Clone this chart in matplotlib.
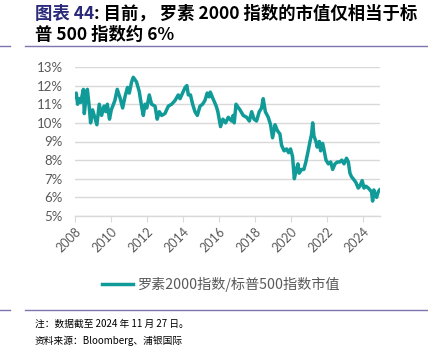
import numpy as np
import matplotlib
matplotlib.use('Agg')
import matplotlib.pyplot as plt
from matplotlib.lines import Line2D

plt.rcParams['font.family'] = ['Lato', 'Noto Sans CJK SC', 'DejaVu Sans']

# ratio of Russell 2000 / S&P 500 market cap (%)
years = [2008.00, 2008.05, 2008.13, 2008.20, 2008.30, 2008.45, 2008.50, 2008.58, 2008.67,
         2008.77, 2008.85, 2008.96, 2009.08, 2009.20, 2009.33, 2009.46, 2009.60, 2009.70,
         2009.78, 2009.90, 2010.00, 2010.20, 2010.33, 2010.50, 2010.63, 2010.76, 2010.90,
         2011.00, 2011.13, 2011.22, 2011.40, 2011.55, 2011.70, 2011.78, 2011.87, 2011.97,
         2012.11, 2012.24, 2012.43, 2012.55, 2012.67, 2012.80, 2012.98, 2013.17, 2013.35,
         2013.54, 2013.72, 2013.82, 2013.96, 2014.10, 2014.20, 2014.28, 2014.40, 2014.52,
         2014.65, 2014.78, 2014.93, 2015.07, 2015.20, 2015.33, 2015.44, 2015.50, 2015.65,
         2015.83, 2015.92, 2016.07, 2016.20, 2016.35, 2016.50, 2016.68, 2016.77, 2016.83,
         2016.93, 2017.00, 2017.15, 2017.33, 2017.52, 2017.67, 2017.80, 2017.93, 2018.07,
         2018.22, 2018.35, 2018.44, 2018.56, 2018.72, 2018.85, 2018.96, 2019.10, 2019.22,
         2019.37, 2019.46, 2019.60, 2019.74, 2019.85, 2019.96, 2020.07, 2020.17, 2020.26,
         2020.37, 2020.44, 2020.57, 2020.70, 2020.81, 2020.94, 2021.04, 2021.13, 2021.19,
         2021.26, 2021.37, 2021.44, 2021.56, 2021.63, 2021.74, 2021.81, 2021.93, 2022.06,
         2022.19, 2022.30, 2022.43, 2022.56, 2022.70, 2022.81, 2022.93, 2023.07, 2023.17,
         2023.26, 2023.35, 2023.44, 2023.59, 2023.72, 2023.81, 2023.94, 2024.04, 2024.15,
         2024.28, 2024.37, 2024.46, 2024.52, 2024.59, 2024.65, 2024.74, 2024.83, 2024.91]
ratio = [11.4, 11.6, 11.0, 11.3, 11.1, 11.8, 10.5, 11.2, 11.8,
         10.9, 10.0, 10.7, 10.3, 9.9, 11.0, 10.4, 10.9, 10.6,
         11.0, 10.2, 10.7, 11.2, 11.8, 11.3, 10.8, 11.4, 11.9,
         11.6, 12.2, 12.45, 12.2, 11.7, 10.8, 10.4, 11.0, 10.8,
         11.5, 11.0, 10.9, 10.2, 10.6, 10.4, 10.5, 10.9, 11.0,
         11.2, 11.5, 11.3, 11.6, 11.9, 12.0, 11.5, 11.5, 11.0,
         10.6, 10.4, 10.9, 11.0, 11.2, 11.6, 11.4, 11.65, 11.3,
         10.9, 10.6, 9.8, 10.2, 10.0, 10.3, 10.1, 10.4, 10.0,
         11.0, 10.9, 10.7, 10.4, 10.3, 10.1, 10.6, 10.2, 10.1,
         10.6, 10.8, 11.3, 10.6, 10.3, 9.9, 9.2, 9.9, 9.6,
         9.4, 8.8, 8.5, 8.6, 8.4, 8.6, 8.2, 7.0, 7.4,
         7.8, 7.3, 7.5, 7.5, 7.9, 8.5, 9.0, 9.4, 10.0,
         9.3, 9.0, 8.7, 9.0, 8.5, 8.9, 8.6, 8.0, 7.8,
         7.9, 7.5, 7.8, 7.9, 7.9, 8.0, 7.8, 8.1, 7.9,
         7.3, 7.1, 7.0, 6.8, 6.5, 6.6, 6.9, 6.5, 6.6,
         6.5, 6.4, 6.3, 5.8, 6.4, 6.1, 6.0, 6.3, 6.4]

yticks = [5, 6, 7, 8, 9, 10, 11, 12, 13]
xticks = [2008, 2010, 2012, 2014, 2016, 2018, 2020, 2022, 2024]

teal = '#119b98'
grey = '#595959'
cjk = ['Noto Sans CJK SC', 'DejaVu Sans']
W, H = 428, 350

fig = plt.figure(figsize=(4.28, 3.5), dpi=100)
ax = fig.add_axes([75.3 / W, 1 - 216 / H, 304.7 / W, 149 / H])

ax.plot(years, ratio, color=teal, lw=2.5, solid_joinstyle='round')
ax.set_xlim(2008, 2024.93)
ax.set_ylim(5, 13)
ax.set_yticks(yticks)
ax.set_yticklabels([f'{v}%' for v in yticks])
ax.set_xticks(xticks)
ax.set_xticklabels([str(v) for v in xticks], rotation=45, ha='right', rotation_mode='anchor')
ax.grid(axis='y', color='#d9d9d9', lw=1)
ax.set_axisbelow(True)
for s in ['top', 'right', 'left']:
    ax.spines[s].set_visible(False)
ax.spines['bottom'].set_color('#d9d9d9')
ax.spines['bottom'].set_linewidth(1)
ax.tick_params(axis='y', length=0, labelsize=9.5, labelcolor=grey, pad=9)
ax.tick_params(axis='x', length=4, color='#d9d9d9', labelsize=9, labelcolor=grey, pad=3)

# title
t1 = fig.text(35 / W, 1 - 14 / H, '图表 44', family=cjk, fontsize=12.5, fontweight='bold',
              color='#2b2a7a', va='center')
fig.canvas.draw()
bb = t1.get_window_extent()
fig.text(bb.x1 / W, 1 - 14 / H, ': 目前， 罗素 2000 指数的市值仅相当于标', family=cjk,
         fontsize=12.5, fontweight='bold', color='black', va='center')
fig.text(35 / W, 1 - 35 / H, '普 500 指数约 6%', family=cjk, fontsize=12.5, fontweight='bold',
         color='black', va='center')

# separators
sep = '#7f73b0'
for yy in [46, 310]:
    fig.add_artist(Line2D([0, 10 / W], [1 - yy / H] * 2, color=sep, lw=1))
    fig.add_artist(Line2D([25 / W, 1], [1 - yy / H] * 2, color=sep, lw=1))

# legend
fig.add_artist(Line2D([102 / W, 133 / W], [1 - 284 / H] * 2, color=teal, lw=2.5))
fig.text(138 / W, 1 - 284 / H, '罗素2000指数/标普500指数市值', family=cjk, fontsize=10.2,
         color=grey, va='center')

# notes
fig.text(35 / W, 1 - 324 / H, '注：数据截至 2024 年 11 月 27 日。', family=cjk, fontsize=7.0,
         color='black', va='center')
fig.text(35 / W, 1 - 341 / H, '资料来源：Bloomberg、浦银国际', family=cjk, fontsize=7.0,
         color='black', va='center')

fig.savefig('out.png', dpi=100)
